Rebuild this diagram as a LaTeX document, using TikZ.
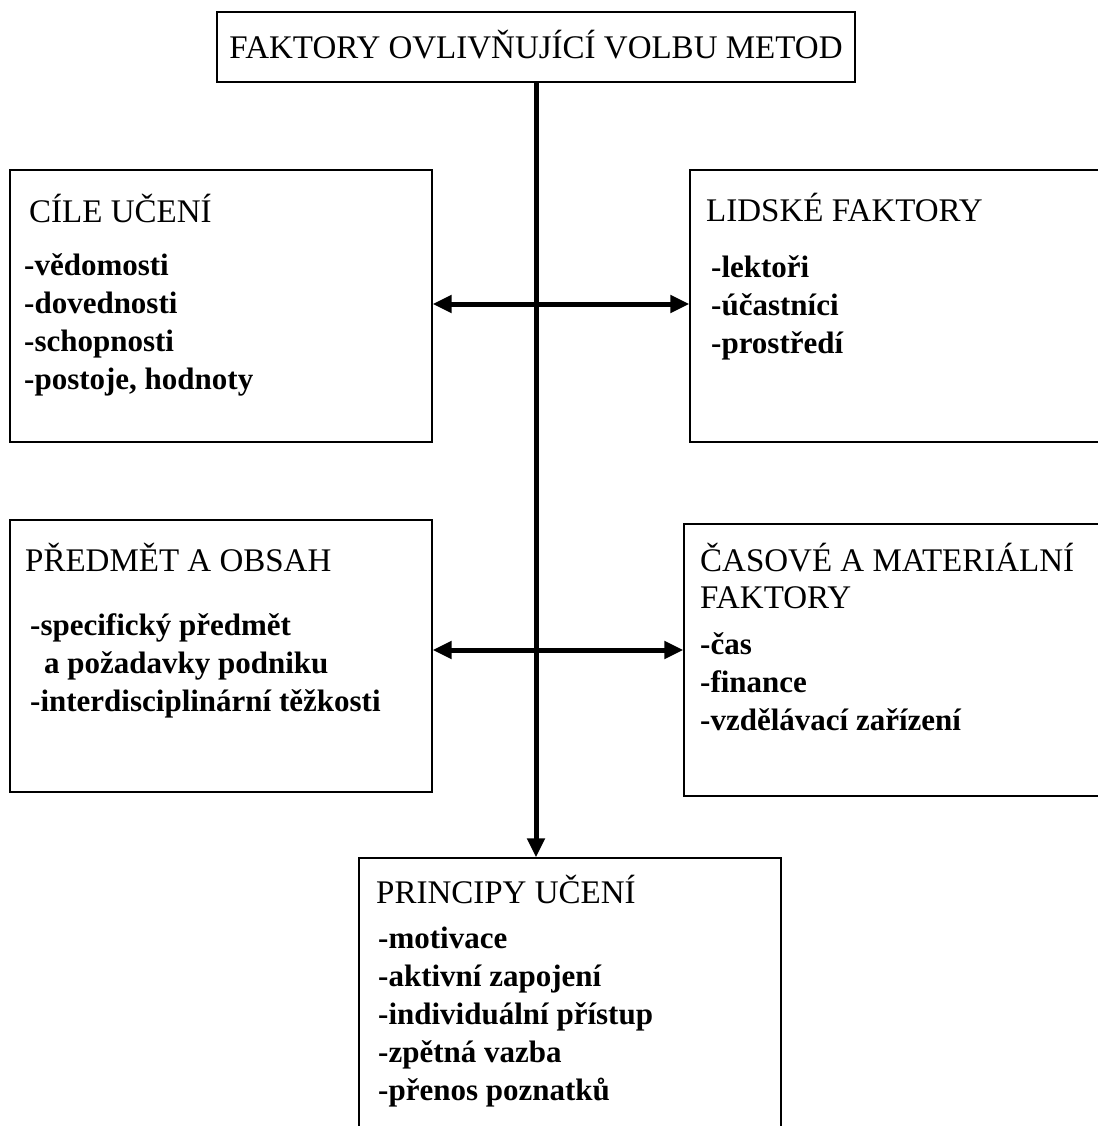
\documentclass[tikz,border=0pt]{standalone}
\usepackage{fontspec}
\setmainfont{Liberation Serif}
\usetikzlibrary{arrows.meta}
\tikzset{
  box/.style={draw, line width=1.3pt, rectangle, inner sep=0pt},
  head/.style={anchor=base west, inner sep=0pt, font=\fontsize{33}{38}\selectfont},
  item/.style={anchor=base west, inner sep=0pt, font=\fontsize{31}{38}\bfseries\selectfont},
  conn/.style={line width=5pt},
  tip/.tip={Triangle[length=19pt, width=17pt]}
}
\begin{document}
\begin{tikzpicture}[x=1pt, y=-1pt]
\useasboundingbox (0,0) rectangle (1097,1126);
\node[box, minimum width=638pt, minimum height=70pt, head, anchor=center, text height=23pt, text depth=0pt] (faktory) at (536,47) {FAKTORY OVLIVŇUJÍCÍ VOLBU METOD};
\node[box, minimum width=422pt, minimum height=272pt] (cile-uceni) at (221,306) {};
\node[box, minimum width=430pt, minimum height=272pt] (lidske-faktory) at (905,306) {};
\node[box, minimum width=422pt, minimum height=272pt] (predmet-obsah) at (221,656) {};
\node[box, minimum width=436pt, minimum height=272pt] (casove-faktory) at (902,660) {};
\node[box, minimum width=422pt, minimum height=282pt] (principy-uceni) at (570,999) {};
% headings
\node[head] (cile-head) at (29,222) {CÍLE UČENÍ};
\node[head] (lidske-head) at (706,221) {LIDSKÉ FAKTORY};
\node[head] (predmet-head) at (25,571) {PŘEDMĚT A OBSAH};
\node[head] (casove-head) at (700,571) {ČASOVÉ A MATERIÁLNÍ};
\node[head] (casove-head2) at (700,608) {FAKTORY};
\node[head] (principy-head) at (376,903) {PRINCIPY UČENÍ};
% items
\foreach \t [count=\i] in {-vědomosti, -dovednosti, -schopnosti, {-postoje, hodnoty}}
  \node[item] (cile-\i) at (24,237+38*\i) {\t};
\foreach \t [count=\i] in {-lektoři, -účastníci, -prostředí}
  \node[item] (lidske-\i) at (711,239+38*\i) {\t};
\node[item] (predmet-1) at (30,635) {-specifický předmět};
\node[item] (predmet-2) at (44,673) {a požadavky podniku};
\node[item] (predmet-3) at (30,711) {-interdisciplinární těžkosti};
\foreach \t [count=\i] in {-čas, -finance, -vzdělávací zařízení}
  \node[item] (casove-\i) at (700,616+38*\i) {\t};
\foreach \t [count=\i] in {-motivace, -aktivní zapojení, -individuální přístup, -zpětná vazba, -přenos poznatků}
  \node[item] (principy-\i) at (378,910+38*\i) {\t};
% connectors
\coordinate (j1) at (534,304);
\coordinate (j2) at (534,650);
\draw[conn, -tip] (faktory.south) -- (faktory.south |- principy-uceni.north);
\draw[conn, tip-tip] (cile-uceni.east |- j1) -- (lidske-faktory.west |- j1);
\draw[conn, tip-tip] (predmet-obsah.east |- j2) -- (casove-faktory.west |- j2);
\end{tikzpicture}
\end{document}
